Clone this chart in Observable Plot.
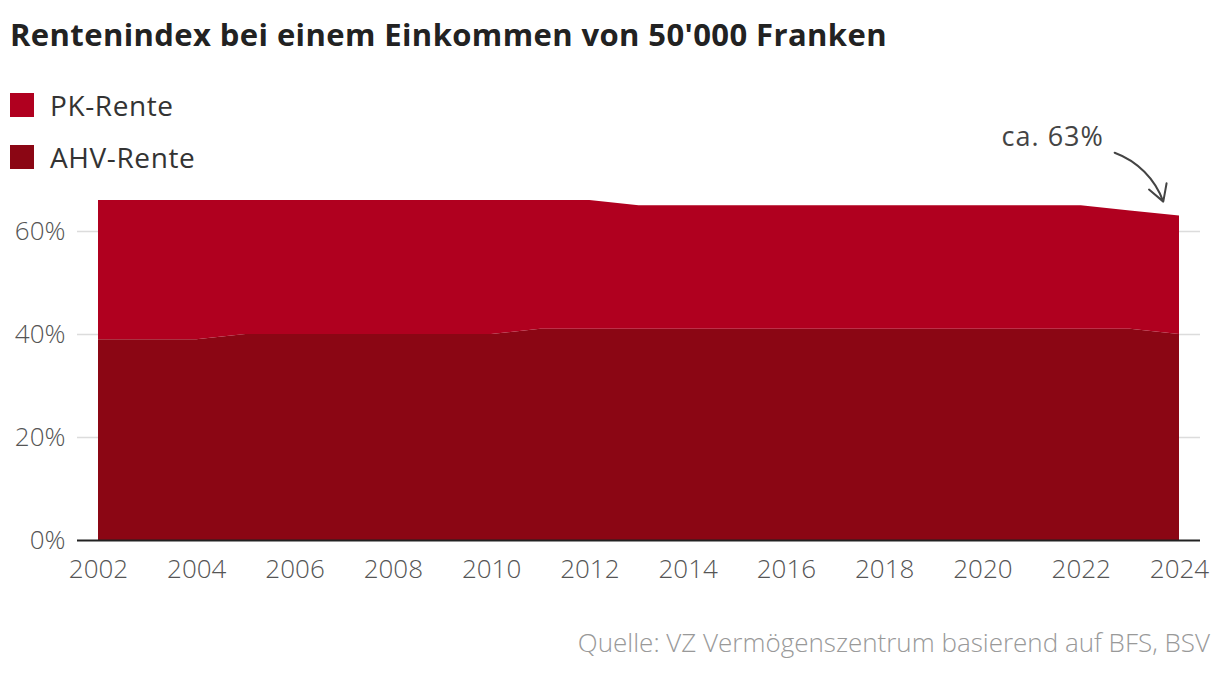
<!DOCTYPE html>
<html>
<head>
<meta charset="utf-8">
<script src="https://cdn.jsdelivr.net/npm/d3@7"></script>
<script src="https://cdn.jsdelivr.net/npm/@observablehq/plot@0.6"></script>
<style>
  html, body { margin: 0; padding: 0; background: #fff; }
  body { width: 1220px; height: 676px; position: relative; overflow: hidden; font-family: "Open Sans", Roboto, sans-serif; }
  #title { position: absolute; left: 10px; top: 13px; font-size: 31px; font-weight: 700; letter-spacing: 0.4px; color: #222; white-space: nowrap; }
  #chart { position: absolute; left: 0; top: 60px; }
  .legend { position: absolute; left: 10px; font-size: 28px; font-weight: 400; letter-spacing: 0.6px; color: #333; display: flex; align-items: center; }
  .legend .sw { width: 24px; height: 24px; margin-right: 16px; }
  #caption { position: absolute; right: 10px; top: 624px; font-size: 26px; font-weight: 300; color: #999; white-space: nowrap; }
  #chart svg g[aria-label="text"] text { letter-spacing: 1px; }
</style>
</head>
<body>
<div id="title">Rentenindex bei einem Einkommen von 50'000 Franken</div>
<div id="chart"></div>
<div id="legend"></div>
<div id="caption">Quelle: VZ Vermögenszentrum basierend auf BFS, BSV</div>
<script>
const years = [2002,2003,2004,2005,2006,2007,2008,2009,2010,2011,2012,2013,2014,2015,2016,2017,2018,2019,2020,2021,2022,2023,2024];
const ahvRente = [39,39,39,40,40,40,40,40,40,41,41,41,41,41,41,41,41,41,41,41,41,41,40];
const pkRente  = [27,27,27,26,26,26,26,26,26,25,25,24,24,24,24,24,24,24,24,24,24,23,23];
const seriesNames = ["AHV-Rente", "PK-Rente"];
const seriesColors = ["#8b0614", "#b0001f"];
const yTicks = [0, 20, 40, 60];
const xTicks = [2002,2004,2006,2008,2010,2012,2014,2016,2018,2020,2022,2024];
const annotationText = "ca. 63%";
const annotation = [{tx: 2021.42, ty: 78.2, x1: 2022.68, y1: 75.3, x2: 2023.67, y2: 65.8}];

const rows = [];
years.forEach((yr, i) => rows.push({year: yr, series: seriesNames[0], value: ahvRente[i]}));
years.forEach((yr, i) => rows.push({year: yr, series: seriesNames[1], value: pkRente[i]}));

const chart = Plot.plot({
  width: 1220,
  height: 540,
  marginLeft: 77,
  marginRight: 20,
  marginTop: 20,
  marginBottom: 60,
  style: {fontFamily: "'Open Sans', Roboto, sans-serif", background: "transparent"},
  x: {domain: [2002, 2024], range: [98, 1179]},
  y: {domain: [0, 60], range: [480, 171]},
  color: {domain: seriesNames, range: seriesColors},
  marks: [
    Plot.ruleY(yTicks.filter(d => d !== 0), {stroke: "#dcdcdc", strokeWidth: 1.5}),
    Plot.areaY(rows, {x: "year", y: "value", z: "series", fill: "series"}),
    Plot.ruleY([0], {stroke: "#222", strokeWidth: 2}),
    Plot.axisY({ticks: yTicks, tickSize: 0, tickPadding: 12, tickFormat: d => d + "%", fontSize: 26, fontWeight: 300, color: "#555", label: null}),
    Plot.axisX({ticks: xTicks, tickSize: 0, tickPadding: 19, tickFormat: d => String(d), fontSize: 26, fontWeight: 300, color: "#555", label: null}),
    Plot.text(annotation, {x: "tx", y: "ty", text: () => annotationText, fontSize: 27, fontWeight: 400, fill: "#444", textAnchor: "middle"}),
    Plot.arrow(annotation, {x1: "x1", y1: "y1", x2: "x2", y2: "y2", bend: 25, stroke: "#444", strokeWidth: 2, headLength: 14})
  ]
});
document.getElementById("chart").appendChild(chart);

const legend = document.getElementById("legend");
[[seriesNames[1], seriesColors[1], 93], [seriesNames[0], seriesColors[0], 145]].forEach(([name, col, top]) => {
  const d = document.createElement("div");
  d.className = "legend";
  d.style.top = (top - 7) + "px";
  d.innerHTML = `<span class="sw" style="background:${col}"></span><span>${name}</span>`;
  legend.appendChild(d);
});
</script>
</body>
</html>
